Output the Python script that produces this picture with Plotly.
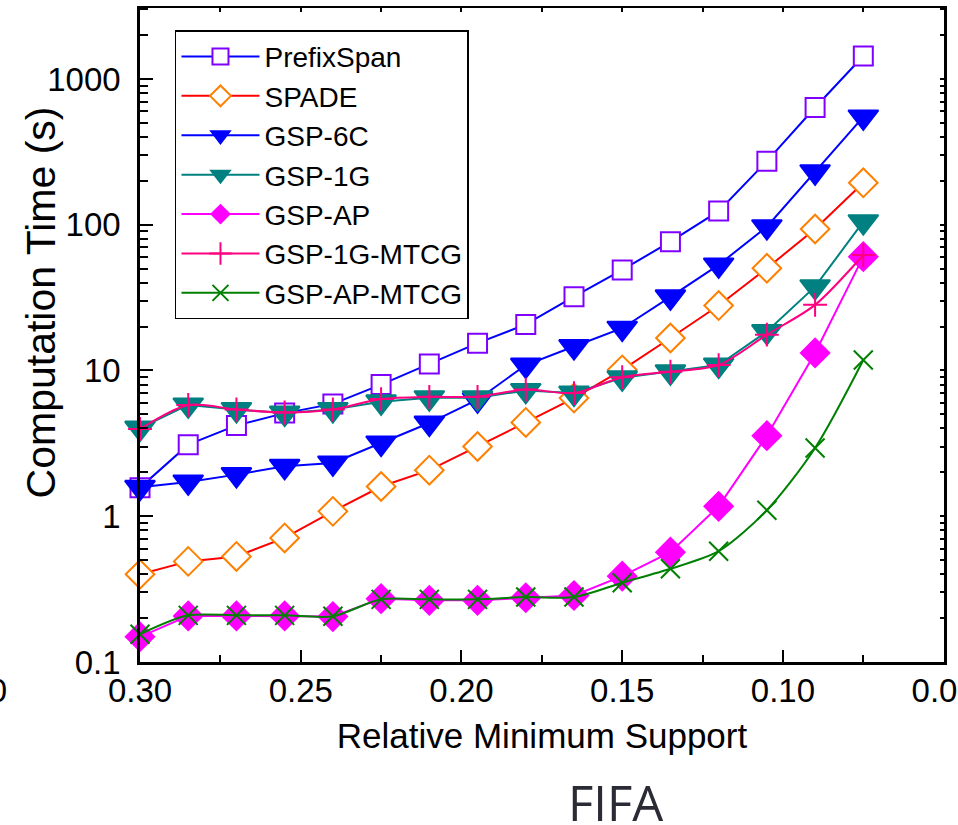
import plotly.graph_objects as go

# Relative minimum support values (x axis, decreasing to the right)
support = [0.30, 0.285, 0.27, 0.255, 0.24, 0.225, 0.21, 0.195,
           0.18, 0.165, 0.15, 0.135, 0.12, 0.105, 0.09, 0.075]

# Computation time in seconds for each algorithm
prefixspan = [1.57, 3.1, 4.2, 5.1, 5.9, 8.0, 11.1, 15.4,
              20.7, 32.1, 49, 76.5, 124, 273, 637, 1438]
spade = [0.40, 0.49, 0.53, 0.71, 1.08, 1.60, 2.07, 3.01,
         4.40, 6.47, 10.1, 16.7, 27.9, 50.3, 93.5, 194]
gsp_6c = [1.58, 1.72, 1.93, 2.2, 2.32, 3.18, 4.36, 6.3,
          10.9, 14.6, 19.5, 32, 53, 97, 231, 549]
gsp_1g = [4.03, 5.8, 5.4, 5.1, 5.4, 6.1, 6.5, 6.5,
          7.3, 7.0, 8.9, 9.8, 10.9, 18.5, 37.6, 105]
gsp_ap = [0.149, 0.207, 0.207, 0.207, 0.205, 0.272, 0.265, 0.265,
          0.276, 0.286, 0.388, 0.567, 1.17, 3.57, 13.2, 60.4]
gsp_1g_mtcg = [3.97, 5.8, 5.4, 5.15, 5.4, 6.37, 6.6, 6.6,
               7.4, 7.0, 9.0, 9.8, 10.9, 17.6, 28.2, 62]
gsp_ap_mtcg = [0.155, 0.209, 0.209, 0.209, 0.206, 0.269, 0.269, 0.269,
               0.279, 0.279, 0.35, 0.436, 0.576, 1.10, 2.94, 11.8]

# Axis ticks
x_ticks = [0.30, 0.25, 0.20, 0.15, 0.10, 0.05]
x_ticktext = ["0.30", "0.25", "0.20", "0.15", "0.10", "0.05"]
x_minor = [0.275, 0.225, 0.175, 0.125, 0.075]
y_ticks = [0.1, 1, 10, 100, 1000]
y_ticktext = ["0.1", "1", "10", "100", "1000"]
y_minor = [k * 10 ** d for d in range(-1, 4) for k in range(2, 10) if k * 10 ** d < 3100]

X_RANGE = [0.30, 0.0499]
Y_RANGE = [-1, 3.487]
FONT = "Liberation Sans, Arial, sans-serif"

series = [
    dict(name="PrefixSpan", y=prefixspan, line="#0000FF", symbol="square",
         size=19, fill="white", edge="#8000FF", ew=2, shape="linear"),
    dict(name="SPADE", y=spade, line="#FF0000", symbol="diamond",
         size=22, fill="white", edge="#FF8000", ew=2, shape="linear"),
    dict(name="GSP-6C", y=gsp_6c, line="#0000FF", symbol="triangle-down",
         size=26, fill="#0000FF", edge="#0000FF", ew=2, shape="linear"),
    dict(name="GSP-1G", y=gsp_1g, line="#008080", symbol="triangle-down",
         size=26, fill="#008080", edge="#008080", ew=2, shape="linear"),
    dict(name="GSP-AP", y=gsp_ap, line="#FF00FF", symbol="diamond",
         size=24, fill="#FF00FF", edge="#FF00FF", ew=0, shape="linear"),
    dict(name="GSP-1G-MTCG", y=gsp_1g_mtcg, line="#FF0080", symbol="cross-thin",
         size=17, fill="#FF0080", edge="#FF0080", ew=2, shape="spline"),
    dict(name="GSP-AP-MTCG", y=gsp_ap_mtcg, line="#008000", symbol="x-thin",
         size=19, fill="#008000", edge="#008000", ew=2, shape="spline"),
]

fig = go.Figure()
for s in series:
    fig.add_trace(go.Scatter(
        x=support, y=s["y"], name=s["name"], mode="lines+markers",
        line=dict(color=s["line"], width=2, shape=s["shape"], smoothing=0.8),
        marker=dict(symbol=s["symbol"], size=s["size"], color=s["fill"],
                    line=dict(color=s["edge"], width=s["ew"])),
        cliponaxis=False,
    ))

# Empty trace so the mirrored top/right axes get drawn
fig.add_trace(go.Scatter(x=[], y=[], xaxis="x2", yaxis="y2",
                         showlegend=False, hoverinfo="skip"))

fig.update_layout(
    width=958, height=825,
    margin=dict(l=140, r=14, t=8, b=163, autoexpand=False),
    paper_bgcolor="white", plot_bgcolor="white",
    font=dict(family=FONT, color="black"),
    showlegend=True,
    legend=dict(
        x=0.0435, y=0.966, xanchor="left", yanchor="top",
        bgcolor="white", bordercolor="black", borderwidth=1.5,
        font=dict(size=28, family=FONT, color="black"),
        itemwidth=78, tracegroupgap=0,
    ),
    xaxis=dict(
        range=X_RANGE, tickmode="array", tickvals=x_ticks, ticktext=x_ticktext,
        ticks="inside", ticklen=12, tickwidth=2, tickcolor="black",
        minor=dict(tickmode="array", tickvals=x_minor, ticks="inside",
                   ticklen=7, tickwidth=2, tickcolor="black"),
        showline=True, linewidth=2.5, linecolor="black",
        showgrid=False, zeroline=False, automargin=False,
        tickfont=dict(size=33, family=FONT, color="black"),
        ticklabelstandoff=-2, ticklabeloverflow="allow",
        title=dict(text="Relative Minimum Support", standoff=16,
                   font=dict(size=35, family=FONT, color="black")),
    ),
    yaxis=dict(
        type="log", range=Y_RANGE, tickmode="array", tickvals=y_ticks, ticktext=y_ticktext,
        ticks="inside", ticklen=13, tickwidth=2, tickcolor="black",
        minor=dict(tickmode="array", tickvals=y_minor, ticks="inside",
                   ticklen=8, tickwidth=2, tickcolor="black"),
        showline=True, linewidth=2.5, linecolor="black",
        showgrid=False, zeroline=False, automargin=False,
        tickfont=dict(size=33, family=FONT, color="black"),
        ticklabelstandoff=10,
    ),
    xaxis2=dict(
        overlaying="x", side="top", anchor="y", range=X_RANGE,
        tickmode="array", tickvals=sorted(x_ticks + x_minor),
        ticks="inside", ticklen=4, tickwidth=1.5, tickcolor="black",
        showticklabels=False, showline=True, linewidth=2, linecolor="black",
        showgrid=False, zeroline=False, automargin=False,
    ),
    yaxis2=dict(
        overlaying="y", side="right", anchor="x", type="log", range=Y_RANGE,
        tickmode="array", tickvals=sorted(y_ticks + y_minor),
        ticks="inside", ticklen=4, tickwidth=1.5, tickcolor="black",
        showticklabels=False, showline=True, linewidth=2.5, linecolor="black",
        showgrid=False, zeroline=False, automargin=False,
    ),
    annotations=[
        dict(text="Computation Time (s)", xref="paper", yref="paper",
             x=-0.123, y=0.550, xanchor="center", yanchor="middle",
             textangle=-90, showarrow=False,
             font=dict(size=41, family=FONT, color="black")),
        dict(text="FIFA", xref="paper", yref="paper", x=0.592, y=-0.214,
             xanchor="center", yanchor="middle", showarrow=False,
             font=dict(size=49, family="Open Sans, sans-serif", color="#2b2b36")),
        dict(text="0.00", xref="paper", yref="paper", x=-0.163, y=-0.044,
             xanchor="right", yanchor="middle", showarrow=False,
             font=dict(size=33, family=FONT, color="black")),
    ],
)

fig.write_html("out.html")
